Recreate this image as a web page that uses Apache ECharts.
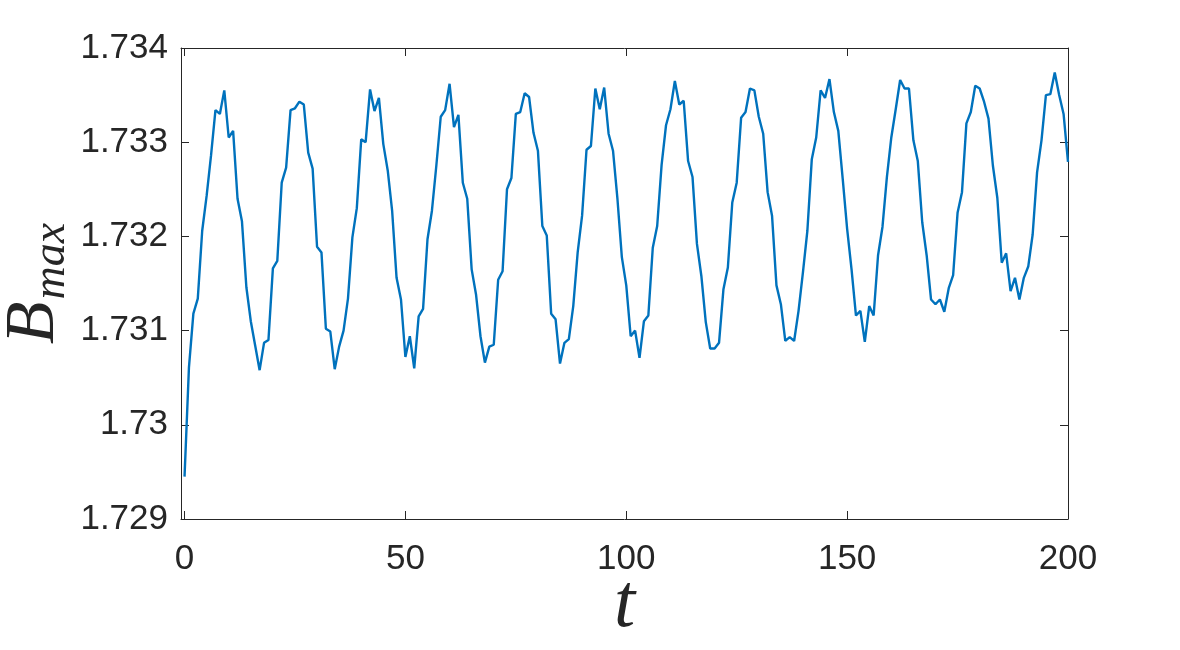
<!DOCTYPE html>
<html lang="en">
<head>
  <meta charset="UTF-8">
  <title>B_max vs t</title>
  <script src="https://cdn.jsdelivr.net/npm/echarts@6.0.0/dist/echarts.min.js"></script>
  <style>
    html, body {
      margin: 0;
      padding: 0;
      background: #ffffff;
    }
    #chart {
      width: 1180px;
      height: 650px;
    }
  </style>
</head>
<body>
  <div id="chart"></div>

  <script>
    // time axis: one sample per unit, starting at t = 0
    const tStart = 0;
    const tStep = 1;

    // B_max, t = 0 .. 200
    const bmax = [
      1.72945, 1.73061, 1.73118, 1.73134, 1.73206, 1.73243, 1.73286, 1.73334, 1.73330, 1.73355,
      1.73305, 1.73312, 1.73240, 1.73216, 1.73146, 1.73110, 1.73084, 1.73058, 1.73087, 1.73090,
      1.73166, 1.73174, 1.73257, 1.73273, 1.73334, 1.73336, 1.73343, 1.73340, 1.73289, 1.73272,
      1.73189, 1.73183, 1.73102, 1.73099, 1.73059, 1.73083, 1.73100, 1.73134, 1.73199, 1.73230,
      1.73303, 1.73300, 1.73356, 1.73333, 1.73347, 1.73298, 1.73270, 1.73227, 1.73156, 1.73133,
      1.73072, 1.73094, 1.73060, 1.73115, 1.73123, 1.73197, 1.73227, 1.73275, 1.73327, 1.73334,
      1.73362, 1.73316, 1.73329, 1.73257, 1.73240, 1.73165, 1.73138, 1.73094, 1.73066, 1.73083,
      1.73085, 1.73154, 1.73163, 1.73250, 1.73262, 1.73330, 1.73332, 1.73352, 1.73348, 1.73310,
      1.73291, 1.73211, 1.73201, 1.73118, 1.73112, 1.73065, 1.73087, 1.73091, 1.73126, 1.73183,
      1.73222, 1.73292, 1.73296, 1.73357, 1.73335, 1.73358, 1.73309, 1.73291, 1.73240, 1.73178,
      1.73148, 1.73094, 1.73100, 1.73071, 1.73110, 1.73116, 1.73188, 1.73211, 1.73276, 1.73318,
      1.73335, 1.73365, 1.73340, 1.73344, 1.73280, 1.73263, 1.73192, 1.73158, 1.73109, 1.73081,
      1.73081, 1.73087, 1.73144, 1.73167, 1.73236, 1.73257, 1.73326, 1.73332, 1.73357, 1.73355,
      1.73327, 1.73309, 1.73247, 1.73222, 1.73148, 1.73128, 1.73089, 1.73093, 1.73089, 1.73121,
      1.73162, 1.73206, 1.73282, 1.73305, 1.73355, 1.73347, 1.73367, 1.73332, 1.73312, 1.73261,
      1.73208, 1.73165, 1.73116, 1.73121, 1.73088, 1.73126, 1.73116, 1.73180, 1.73210, 1.73263,
      1.73305, 1.73335, 1.73366, 1.73357, 1.73357, 1.73302, 1.73280, 1.73215, 1.73180, 1.73133,
      1.73128, 1.73133, 1.73120, 1.73145, 1.73159, 1.73225, 1.73247, 1.73320, 1.73332, 1.73360,
      1.73357, 1.73343, 1.73325, 1.73275, 1.73241, 1.73172, 1.73182, 1.73142, 1.73156, 1.73133,
      1.73156, 1.73168, 1.73202, 1.73268, 1.73302, 1.73350, 1.73351, 1.73374, 1.73350, 1.73330,
      1.73279
    ];

    // tick positions
    const xTicks = [0, 50, 100, 150, 200];
    const yTicks = [1.729, 1.730, 1.731, 1.732, 1.733, 1.734];

    const axisColor = '#262626';
    const lineColor = '#0072BD';

    const chart = echarts.init(document.getElementById('chart'), null, { renderer: 'canvas' });

    // shared look of the box axes (ticks point inwards like MATLAB)
    function boxAxis(extra) {
      return Object.assign({
        type: 'value',
        axisLine: { show: true, onZero: false, lineStyle: { color: axisColor, width: 1 } },
        splitLine: { show: false }
      }, extra);
    }

    const tickStyle = { show: true, inside: true, length: 8, lineStyle: { color: axisColor, width: 1 } };
    const labelFont = { color: axisColor, fontFamily: 'Liberation Sans, Arial, sans-serif', fontSize: 35 };
    const mathFont = { color: axisColor, fontFamily: 'Liberation Serif, serif', fontStyle: 'italic' };

    const option = {
      backgroundColor: '#ffffff',
      animation: false,
      grid: { left: 181, right: 112, top: 48, bottom: 131, outerBoundsMode: 'none' },
      xAxis: [
        boxAxis({
          position: 'bottom',
          min: -0.8,
          max: 200,
          axisTick: Object.assign({ customValues: xTicks }, tickStyle),
          axisLabel: Object.assign({ customValues: xTicks, margin: 23 }, labelFont),
          name: 't',
          nameLocation: 'middle',
          nameMoveOverlap: false,
          nameGap: 49,
          nameTextStyle: Object.assign({ fontSize: 76 }, mathFont)
        }),
        boxAxis({
          position: 'top',
          min: -0.8,
          max: 200,
          axisTick: Object.assign({ customValues: xTicks }, tickStyle),
          axisLabel: { show: false }
        })
      ],
      yAxis: [
        boxAxis({
          position: 'left',
          min: 1.729,
          max: 1.734,
          axisTick: Object.assign({ customValues: yTicks }, tickStyle),
          axisLabel: Object.assign({
            customValues: yTicks,
            margin: 13,
            formatter: v => String(+v.toFixed(3))
          }, labelFont),
          name: '{b|B}{s|max}',
          nameLocation: 'middle',
          nameRotate: 90,
          nameMoveOverlap: false,
          nameGap: 106,
          nameTextStyle: {
            rich: {
              b: Object.assign({ fontSize: 70, lineHeight: 70, padding: [0, 2, 10, 0] }, mathFont),
              s: Object.assign({ fontSize: 46, lineHeight: 46, verticalAlign: 'bottom' }, mathFont)
            }
          }
        }),
        boxAxis({
          position: 'right',
          min: 1.729,
          max: 1.734,
          axisTick: Object.assign({ customValues: yTicks }, tickStyle),
          axisLabel: { show: false }
        })
      ],
      series: [
        {
          type: 'line',
          xAxisIndex: 0,
          yAxisIndex: 0,
          data: bmax.map((v, i) => [tStart + i * tStep, v]),
          showSymbol: false,
          smooth: false,
          lineStyle: { color: lineColor, width: 2.4 },
          itemStyle: { color: lineColor }
        }
      ]
    };

    chart.setOption(option);
  </script>
</body>
</html>
